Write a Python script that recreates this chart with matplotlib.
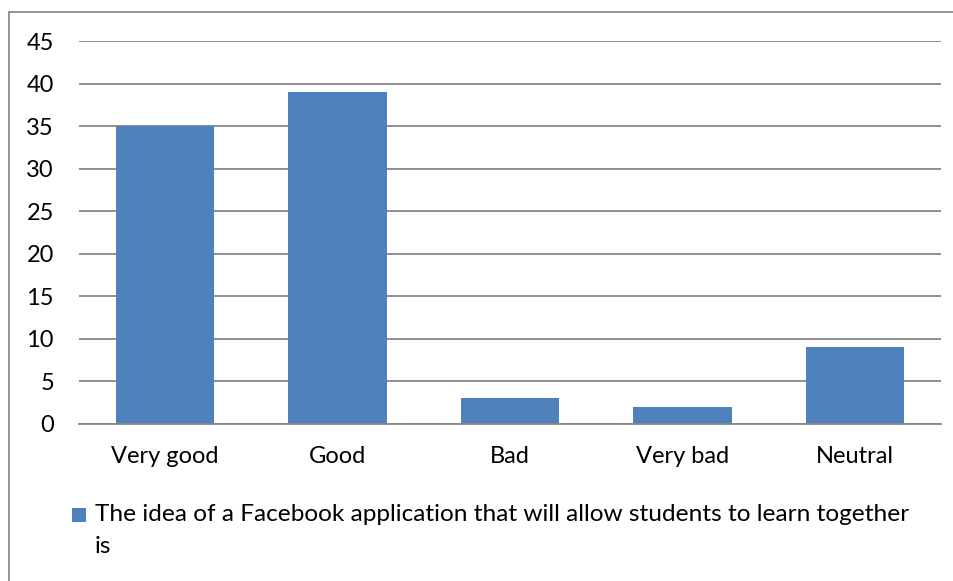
import matplotlib
matplotlib.use("Agg")
import matplotlib.pyplot as plt
from matplotlib.patches import Rectangle

categories = ["Very good", "Good", "Bad", "Very bad", "Neutral"]
values = [35, 39, 3, 2, 9]
y_ticks = [0, 5, 10, 15, 20, 25, 30, 35, 40, 45]
series_label = "The idea of a Facebook application that will allow students to learn together\nis"

BAR_COLOR = "#4F81BD"
GRID_COLOR = "#868686"
FONT = ["Lato", "DejaVu Sans"]
FS = 17

W, H = 954, 581
fig = plt.figure(figsize=(W / 100, H / 100), dpi=100)
plt.rcParams["font.family"] = FONT

ax = fig.add_axes([79 / W, 1 - 424 / H, (941 - 79) / W, (424 - 41) / H])
x = range(len(categories))
ax.bar(x, values, width=0.57, color=BAR_COLOR, zorder=3)

ax.set_xlim(-0.5, len(categories) - 0.5)
ax.set_ylim(0, 45)
ax.set_yticks(y_ticks)
ax.set_xticks(list(x))
ax.set_xticklabels(categories)
ax.tick_params(axis="both", length=0, labelsize=FS, colors="#000000")
ax.tick_params(axis="y", pad=18)
ax.tick_params(axis="x", pad=16)

for s in ["top", "right", "left"]:
    ax.spines[s].set_visible(False)
ax.spines["bottom"].set_color(GRID_COLOR)
ax.spines["bottom"].set_linewidth(1.3)
ax.spines["bottom"].set_zorder(4)
ax.yaxis.grid(True, color=GRID_COLOR, linewidth=1.3, zorder=0)
ax.set_axisbelow(True)

# outer chart frame (continues past the right and bottom edges)
fig.patches.append(Rectangle((9.5 / W, -0.1), 1.2, 1 - 11.5 / H + 0.1,
                             transform=fig.transFigure, fill=False,
                             edgecolor="#8C8C8C", linewidth=1.3))

# legend: square swatch + wrapped label
fig.patches.append(Rectangle((72 / W, 1 - 522 / H), 14 / W, 14 / H,
                             transform=fig.transFigure, facecolor=BAR_COLOR,
                             edgecolor="none"))
fig.text(95 / W, 1 - 504 / H, series_label, fontsize=17.6, va="top", ha="left",
         linespacing=1.65, color="#000000")

fig.savefig("out.png", dpi=100)
